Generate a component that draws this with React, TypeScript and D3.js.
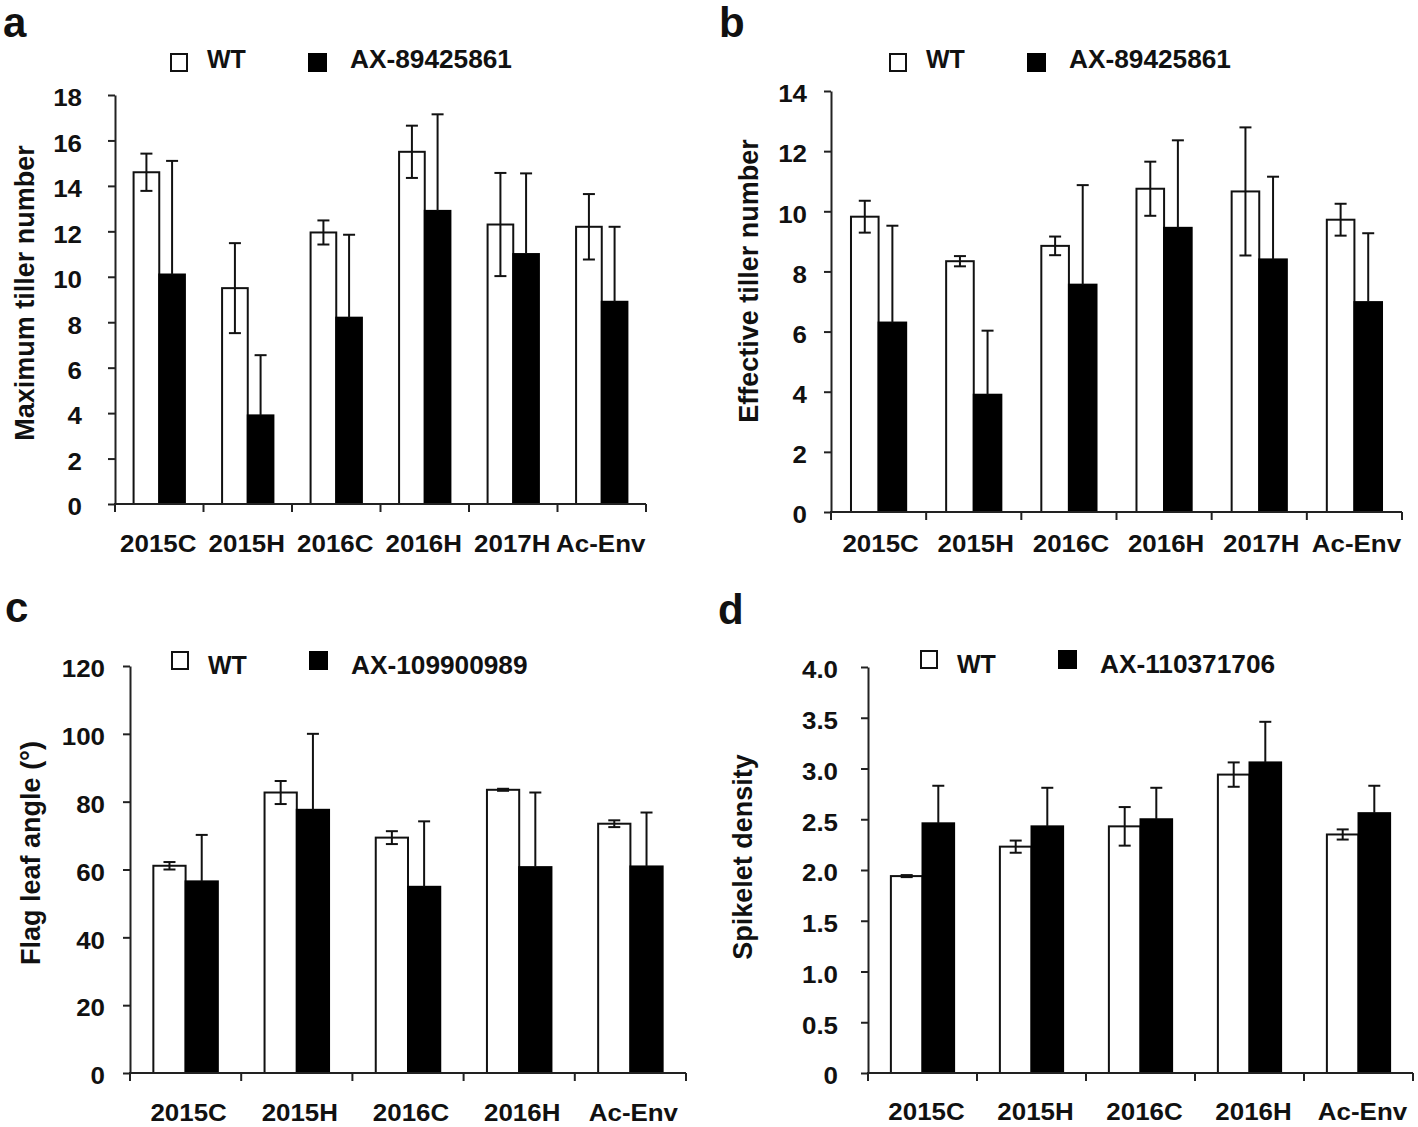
import React, { useEffect, useRef } from "react";
import * as d3 from "d3";

const catsAB = ["2015C", "2015H", "2016C", "2016H", "2017H", "Ac-Env"];
const catsCD = ["2015C", "2015H", "2016C", "2016H", "Ac-Env"];

const seriesNames = ["WT"];
const markerA = "AX-89425861";
const markerB = "AX-89425861";
const markerC = "AX-109900989";
const markerD = "AX-110371706";

const wtA = [14.6, 9.5, 11.95, 15.5, 12.3, 12.2];
const wtAErr = [0.82, 1.98, 0.53, 1.15, 2.27, 1.44];
const mutA = [10.1, 3.9, 8.2, 12.9, 11.0, 8.9];
const mutAErr = [5.0, 2.65, 3.65, 4.25, 3.55, 3.3];

const wtB = [9.82, 8.34, 8.85, 10.75, 10.66, 9.72];
const wtBErr = [0.53, 0.17, 0.31, 0.9, 2.13, 0.53];
const mutB = [6.3, 3.9, 7.56, 9.45, 8.4, 6.98];
const mutBErr = [3.22, 2.13, 3.31, 2.91, 2.75, 2.29];

const wtC = [61.1, 82.7, 69.4, 83.5, 73.5];
const wtCErr = [1.1, 3.4, 1.9, 0.3, 1.0];
const mutC = [56.5, 77.6, 54.9, 60.7, 60.9];
const mutCErr = [13.7, 22.4, 19.3, 22.0, 15.9];

const wtD = [1.94, 2.23, 2.43, 2.94, 2.35];
const wtDErr = [0.01, 0.06, 0.19, 0.12, 0.05];
const mutD = [2.46, 2.43, 2.5, 3.06, 2.56];
const mutDErr = [0.37, 0.38, 0.31, 0.4, 0.27];

const ticksA = [0, 2, 4, 6, 8, 10, 12, 14, 16, 18];
const ticksB = [0, 2, 4, 6, 8, 10, 12, 14];
const ticksC = [0, 20, 40, 60, 80, 100, 120];
const ticksD = [0, 0.5, 1, 1.5, 2, 2.5, 3, 3.5, 4];

const FONT = "'Liberation Sans', Arial, Helvetica, sans-serif";

interface PanelCfg {
  letter: string;
  letterX: number;
  letterY: number;
  cats: string[];
  wt: number[];
  wtErr: number[];
  mut: number[];
  mutErr: number[];
  ticks: number[];
  fmt: (v: number) => string;
  title: string;
  marker: string;
  left: number;
  right: number;
  y0: number;
  yTop: number;
  labelGap: number;
  xLabelOff: number;
  xLabelDx: number;
  titleX: number;
  titleY: number;
  legX: number;
  legSqY: number;
  legTextY: number;
}

const fmtInt = (v: number) => String(v);
const fmtDec = (v: number) => (v === 0 ? "0" : d3.format(".1f")(v));

const panels: PanelCfg[] = [
  {
    letter: "a", letterX: 3, letterY: 37, cats: catsAB, wt: wtA, wtErr: wtAErr, mut: mutA, mutErr: mutAErr,
    ticks: ticksA, fmt: fmtInt, title: "Maximum tiller number", marker: markerA,
    left: 115, right: 646, y0: 504, yTop: 95, labelGap: 33, xLabelOff: 48, xLabelDx: -1,
    titleX: 34, titleY: 293, legX: 170, legSqY: 53, legTextY: 68,
  },
  {
    letter: "b", letterX: 719, letterY: 37, cats: catsAB, wt: wtB, wtErr: wtBErr, mut: mutB, mutErr: mutBErr,
    ticks: ticksB, fmt: fmtInt, title: "Effective tiller number", marker: markerB,
    left: 831, right: 1402, y0: 512, yTop: 91, labelGap: 24, xLabelOff: 40, xLabelDx: 2,
    titleX: 758, titleY: 281, legX: 889, legSqY: 53, legTextY: 68,
  },
  {
    letter: "c", letterX: 5, letterY: 622, cats: catsCD, wt: wtC, wtErr: wtCErr, mut: mutC, mutErr: mutCErr,
    ticks: ticksC, fmt: fmtInt, title: "Flag leaf angle (°)", marker: markerC,
    left: 130, right: 686, y0: 1073, yTop: 666, labelGap: 25, xLabelOff: 48, xLabelDx: 3,
    titleX: 40, titleY: 853, legX: 171, legSqY: 651, legTextY: 674,
  },
  {
    letter: "d", letterX: 718, letterY: 624, cats: catsCD, wt: wtD, wtErr: wtDErr, mut: mutD, mutErr: mutDErr,
    ticks: ticksD, fmt: fmtDec, title: "Spikelet density", marker: markerD,
    left: 868, right: 1413, y0: 1073, yTop: 667, labelGap: 30, xLabelOff: 47, xLabelDx: 4,
    titleX: 752, titleY: 857, legX: 920, legSqY: 650, legTextY: 673,
  },
];

function drawPanel(g: d3.Selection<SVGGElement, unknown, null, undefined>, p: PanelCfg) {
  const x = d3.scaleBand<string>().domain(p.cats).range([p.left, p.right]).paddingInner(0).paddingOuter(0);
  const y = d3.scaleLinear().domain([0, p.ticks[p.ticks.length - 1]]).range([p.y0, p.yTop]);
  const bw = x.bandwidth() * 0.29;
  const axisColor = "#222";

  // panel letter
  g.append("text").attr("x", p.letterX).attr("y", p.letterY).attr("font-family", FONT)
    .attr("font-weight", "bold").attr("font-size", 42).attr("fill", "#111").text(p.letter);

  // bars
  const rows = p.cats.map((c, i) => ({ c, wt: p.wt[i], we: p.wtErr[i], mu: p.mut[i], me: p.mutErr[i] }));
  const grp = g.append("g");
  rows.forEach((r) => {
    const cx = (x(r.c) as number) + x.bandwidth() / 2;
    grp.append("rect").attr("x", cx - bw).attr("y", y(r.wt)).attr("width", bw).attr("height", y(0) - y(r.wt))
      .attr("fill", "#fff").attr("stroke", "#111").attr("stroke-width", 2);
    grp.append("rect").attr("x", cx).attr("y", y(r.mu)).attr("width", bw).attr("height", y(0) - y(r.mu))
      .attr("fill", "#000").attr("stroke", "#000").attr("stroke-width", 2);
    const eb = (ex: number, v: number, e: number, both: boolean) => {
      const lo = both ? v - e : v;
      grp.append("line").attr("x1", ex).attr("x2", ex).attr("y1", y(lo)).attr("y2", y(v + e))
        .attr("stroke", "#111").attr("stroke-width", 2);
      (both ? [v - e, v + e] : [v + e]).forEach((vv) => {
        grp.append("line").attr("x1", ex - 6).attr("x2", ex + 6).attr("y1", y(vv)).attr("y2", y(vv))
          .attr("stroke", "#111").attr("stroke-width", 2);
      });
    };
    eb(cx - bw / 2, r.wt, r.we, true);
    eb(cx + bw / 2, r.mu, r.me, false);
  });

  // y axis
  const tickLen = 7;
  const sx = 1.08;
  const yAxis = d3.axisLeft(y).tickValues(p.ticks).tickFormat((d) => p.fmt(d as number))
    .tickSize(tickLen).tickSizeOuter(0).tickPadding(p.labelGap / sx - tickLen);
  const ya = g.append("g").attr("transform", `translate(${p.left},0)`).call(yAxis);
  ya.select(".domain").attr("stroke", axisColor).attr("stroke-width", 2);
  ya.selectAll(".tick line").attr("stroke", axisColor).attr("stroke-width", 2);
  ya.selectAll(".tick text").attr("font-family", FONT).attr("font-weight", "bold").attr("font-size", 24)
    .attr("fill", "#111").attr("dy", "0.45em").attr("transform", `scale(${sx},1)`);

  // x axis
  g.append("line").attr("x1", p.left - 1).attr("x2", p.right).attr("y1", y(0)).attr("y2", y(0))
    .attr("stroke", axisColor).attr("stroke-width", 2);
  const bounds = [...p.cats.map((c) => x(c) as number), p.right];
  bounds.forEach((bx) => {
    g.append("line").attr("x1", bx).attr("x2", bx).attr("y1", y(0)).attr("y2", y(0) + 8)
      .attr("stroke", axisColor).attr("stroke-width", 2);
  });
  p.cats.forEach((c) => {
    const cx = (x(c) as number) + x.bandwidth() / 2 + p.xLabelDx;
    g.append("text").attr("transform", `translate(${cx},${y(0) + p.xLabelOff}) scale(${sx},1)`)
      .attr("text-anchor", "middle").attr("font-family", FONT).attr("font-weight", "bold")
      .attr("font-size", 24).attr("fill", "#111").text(c);
  });

  // y title
  g.append("text").attr("transform", `translate(${p.titleX},${p.titleY}) rotate(-90)`)
    .attr("text-anchor", "middle").attr("font-family", FONT).attr("font-weight", "bold")
    .attr("font-size", 27).attr("fill", "#111").text(p.title);

  // legend
  const lg = g.append("g");
  lg.append("rect").attr("x", p.legX + 1).attr("y", p.legSqY + 1).attr("width", 16).attr("height", 17)
    .attr("fill", "#fff").attr("stroke", "#111").attr("stroke-width", 2);
  lg.append("text").attr("x", p.legX + 37).attr("y", p.legTextY).attr("font-family", FONT)
    .attr("font-weight", "bold").attr("font-size", 25).attr("fill", "#111").text(seriesNames[0]);
  lg.append("rect").attr("x", p.legX + 138).attr("y", p.legSqY).attr("width", 19).attr("height", 19)
    .attr("fill", "#000");
  lg.append("text").attr("transform", `translate(${p.legX + 180},${p.legTextY}) scale(1.05,1)`)
    .attr("font-family", FONT).attr("font-weight", "bold").attr("font-size", 25).attr("fill", "#111")
    .text(p.marker);
}

export default function App() {
  const ref = useRef<SVGSVGElement | null>(null);
  useEffect(() => {
    if (!ref.current) return;
    const svg = d3.select(ref.current);
    svg.selectAll("*").remove();
    panels.forEach((p) => {
      const g = svg.append("g") as d3.Selection<SVGGElement, unknown, null, undefined>;
      drawPanel(g, p);
    });
  }, []);
  return (
    <svg
      ref={ref}
      width={1418}
      height={1127}
      style={{ position: "absolute", left: 0, top: 0, background: "#fff" }}
    />
  );
}
